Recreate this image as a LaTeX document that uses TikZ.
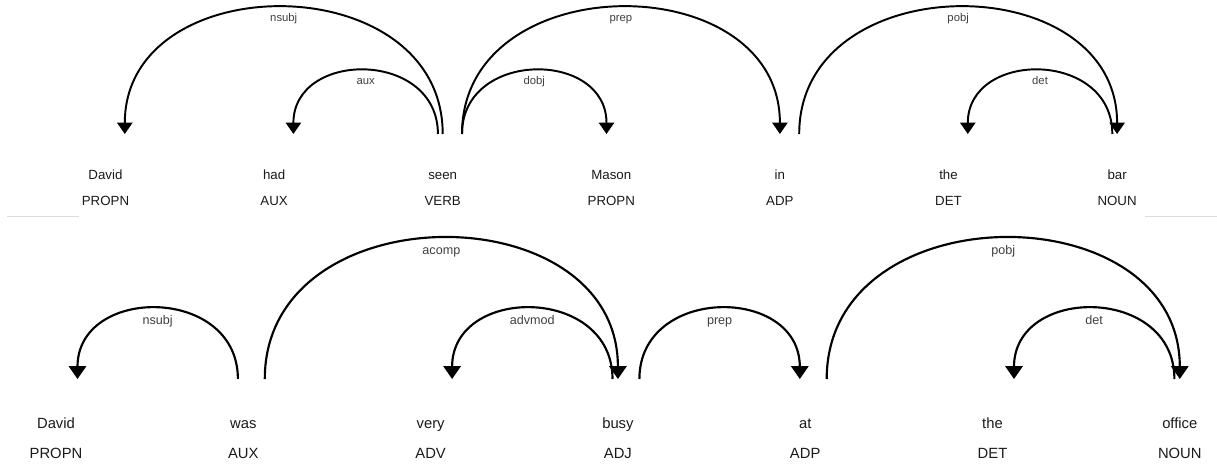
\documentclass[tikz,border=0pt]{standalone}
\usepackage{fontspec}
\setmainfont{Liberation Sans}
\usetikzlibrary{arrows.meta}
\definecolor{wordc}{HTML}{1A1A1A}
\definecolor{lblc}{HTML}{404040}
\definecolor{sepc}{HTML}{DCDCDC}
\tikzset{
  headA/.tip={Triangle[width=15.4pt,length=11.5pt]},
  headB/.tip={Triangle[width=17.2pt,length=12.8pt]},
}
\begin{document}
\begin{tikzpicture}[x=1pt,y=-1pt,
  wordA/.style={anchor=base,inner sep=0pt,text=wordc,font=\fontsize{13.3}{16}\selectfont},
  wordB/.style={anchor=base,inner sep=0pt,text=wordc,font=\fontsize{14.8}{18}\selectfont},
  arcA/.style={line width=1.95pt,draw=black},
  arcB/.style={line width=2.15pt,draw=black},
  lblA/.style={pos=0.5,anchor=base,yshift=-14.1pt,inner sep=0pt,text=lblc,font=\fontsize{11.3}{13}\selectfont},
  lblB/.style={pos=0.5,anchor=base,yshift=-15.7pt,inner sep=0pt,text=lblc,font=\fontsize{12.6}{15}\selectfont},
  sepline/.style={draw=sepc,line width=1pt}]
\useasboundingbox (0,0) rectangle (1217,463);

% ---------- top sentence ----------
\foreach \i/\w/\t [evaluate=\i as \xx using {105.5+168.6*(\i-1)}] in
  {1/David/PROPN,2/had/AUX,3/seen/VERB,4/Mason/PROPN,5/in/ADP,6/the/DET,7/bar/NOUN}{
  \node[wordA] (tw\i) at (\xx,179) {\w};
  \node[wordA] (tt\i) at (\xx,205) {\t};
  \coordinate (ta\i) at (\xx,134);
}
% nsubj: David <- seen (level 2)
\draw[arcA,headA-] ([xshift=19.3pt]ta1) .. controls +(0,-168.6) and +(0,-168.6) .. (ta3) node[lblA] {nsubj};
% aux: had <- seen (level 1)
\draw[arcA,headA-] ([xshift=19.3pt]ta2) .. controls +(0,-84.3) and +(0,-84.3) .. ([xshift=-4.8pt]ta3) node[lblA] {aux};
% dobj: seen -> Mason (level 1)
\draw[arcA,-headA] ([xshift=19.3pt]ta3) .. controls +(0,-84.3) and +(0,-84.3) .. ([xshift=-4.8pt]ta4) node[lblA] {dobj};
% prep: seen -> in (level 2)
\draw[arcA,-headA] ([xshift=19.3pt]ta3) .. controls +(0,-168.6) and +(0,-168.6) .. (ta5) node[lblA] {prep};
% pobj: in -> bar (level 2)
\draw[arcA,-headA] ([xshift=19.3pt]ta5) .. controls +(0,-168.6) and +(0,-168.6) .. (ta7) node[lblA] {pobj};
% det: the <- bar (level 1)
\draw[arcA,headA-] ([xshift=19.3pt]ta6) .. controls +(0,-84.3) and +(0,-84.3) .. ([xshift=-4.8pt]ta7) node[lblA] {det};

% separators
\draw[sepline] (7,216.5) -- (79,216.5);
\draw[sepline] (1145,216.5) -- (1217,216.5);

% ---------- bottom sentence ----------
\foreach \i/\w/\t [evaluate=\i as \xx using {56+187.3*(\i-1)}] in
  {1/David/PROPN,2/was/AUX,3/very/ADV,4/busy/ADJ,5/at/ADP,6/the/DET,7/office/NOUN}{
  \node[wordB] (bw\i) at (\xx,428) {\w};
  \node[wordB] (bt\i) at (\xx,458) {\t};
  \coordinate (ba\i) at (\xx,379);
}
% nsubj: David <- was (level 1)
\draw[arcB,headB-] ([xshift=21.5pt]ba1) .. controls +(0,-93.7) and +(0,-93.7) .. ([xshift=-5.4pt]ba2) node[lblB] {nsubj};
% acomp: was -> busy (level 2)
\draw[arcB,-headB] ([xshift=21.5pt]ba2) .. controls +(0,-187.3) and +(0,-187.3) .. (ba4) node[lblB] {acomp};
% advmod: very <- busy (level 1)
\draw[arcB,headB-] ([xshift=21.5pt]ba3) .. controls +(0,-93.7) and +(0,-93.7) .. ([xshift=-5.4pt]ba4) node[lblB] {advmod};
% prep: busy -> at (level 1)
\draw[arcB,-headB] ([xshift=21.5pt]ba4) .. controls +(0,-93.7) and +(0,-93.7) .. ([xshift=-5.4pt]ba5) node[lblB] {prep};
% pobj: at -> office (level 2)
\draw[arcB,-headB] ([xshift=21.5pt]ba5) .. controls +(0,-187.3) and +(0,-187.3) .. (ba7) node[lblB] {pobj};
% det: the <- office (level 1)
\draw[arcB,headB-] ([xshift=21.5pt]ba6) .. controls +(0,-93.7) and +(0,-93.7) .. ([xshift=-5.4pt]ba7) node[lblB] {det};
\end{tikzpicture}
\end{document}
